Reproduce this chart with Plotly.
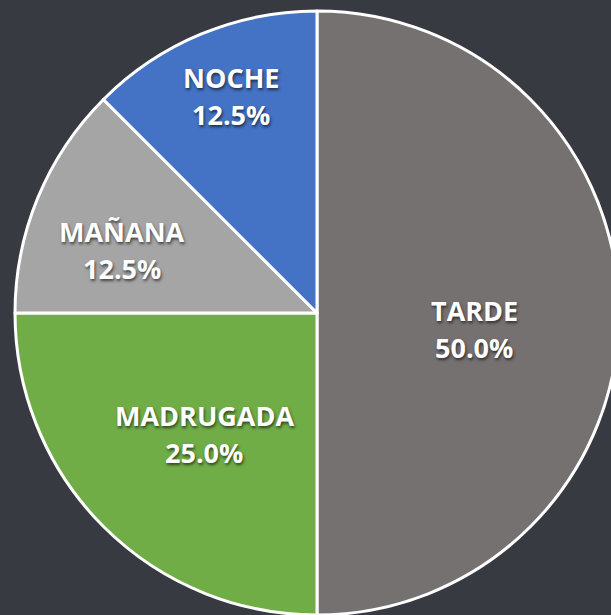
import plotly.graph_objects as go

categories = ["TARDE", "MADRUGADA", "MAÑANA", "NOCHE"]
values = [50.0, 25.0, 12.5, 12.5]
colors = ["#767171", "#70AD47", "#A5A5A5", "#4472C4"]

W, H = 620, 615
CX, CY, R = 317, 313, 302

# label centres (pixels) as placed in the reference
label_px = [(474, 329), (204, 434), (122, 250), (231, 96)]

fig = go.Figure(go.Pie(
    labels=categories,
    values=values,
    sort=False,
    direction="clockwise",
    rotation=0,
    marker=dict(colors=colors, line=dict(color="white", width=3)),
    textinfo="none",
    hoverinfo="skip",
    showlegend=False,
    domain=dict(x=[(CX - R) / W, (CX + R) / W], y=[max(0, (H - CY - R) / H), (H - CY + R) / H]),
))

total = sum(values)
font = dict(family="Open Sans", size=27, color="white", weight="bold",
            shadow="1px 2px 3px rgba(0,0,0,0.6)")
for name, v, (px, py) in zip(categories, values, label_px):
    for txt, off in ((name, -18.5), (f"{v / total * 100:.1f}%", 18.5)):
        fig.add_annotation(
            x=px / W, y=1 - (py + off) / H, xref="paper", yref="paper",
            text=txt, showarrow=False, xanchor="center", yanchor="middle",
            font=font,
        )

fig.update_layout(
    width=W, height=H,
    margin=dict(l=0, r=0, t=0, b=0),
    paper_bgcolor="#383a42",
    plot_bgcolor="#383a42",
)
fig.write_html("out.html", config={"displayModeBar": False},
               post_script="document.body.style.margin='0';document.body.style.overflow='hidden';")
